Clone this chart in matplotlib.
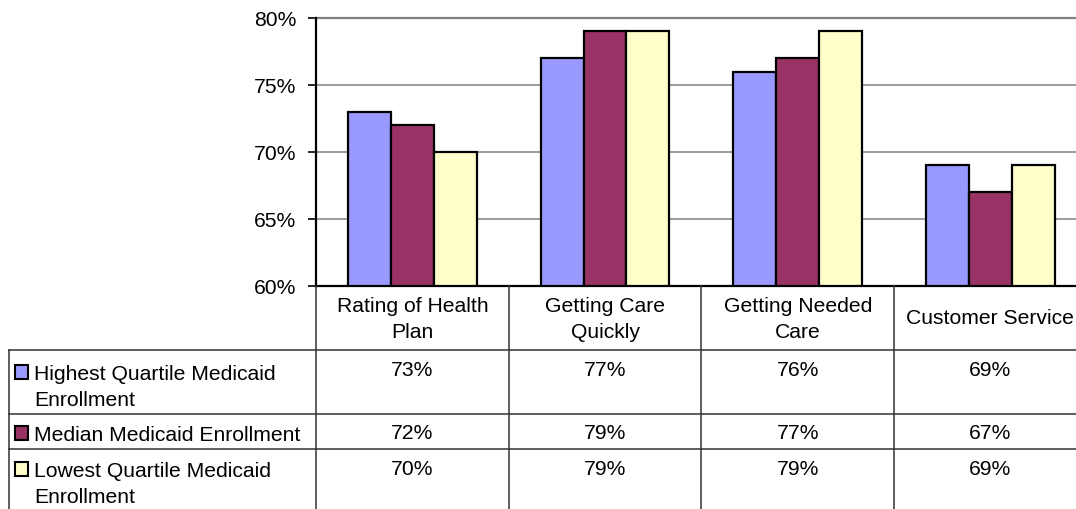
import matplotlib
matplotlib.use("Agg")
import matplotlib.pyplot as plt
from matplotlib.ticker import PercentFormatter
from matplotlib.transforms import blended_transform_factory
from matplotlib.lines import Line2D
from matplotlib.patches import Rectangle

# ---- data -------------------------------------------------------------
categories = ["Rating of Health\nPlan", "Getting Care\nQuickly",
              "Getting Needed\nCare", "Customer Service"]
series_names = ["Highest Quartile Medicaid\nEnrollment",
                "Median Medicaid Enrollment",
                "Lowest Quartile Medicaid\nEnrollment"]
highest = [73, 77, 76, 69]
median = [72, 79, 77, 67]
lowest = [70, 79, 79, 69]
y_ticks = [60, 65, 70, 75, 80]

series_values = [highest, median, lowest]
colors = ["#9999FF", "#993366", "#FFFFCC"]

plt.rcParams["font.family"] = ["Liberation Sans", "DejaVu Sans"]
FS = 15.2
LINE_PX = 26.5  # baseline-to-baseline distance of wrapped cell text

W, H = 1076, 510
fig = plt.figure(figsize=(W / 100, H / 100), dpi=100)
fig.patch.set_facecolor("white")


def fx(px):
    return px / W


def fy(py):
    return 1 - py / H


def cell_text(x, base_px, text, transform, ha):
    """Draw (possibly wrapped) text with the first baseline at base_px."""
    for j, line in enumerate(text.split("\n")):
        fig.text(x, fy(base_px + j * LINE_PX), line, transform=transform,
                 ha=ha, va="baseline", fontsize=FS)


# plot area (the rightmost column runs a little past the canvas edge)
left_px, right_px, top_px, bottom_px = 316, 1086.7, 19, 287
ax = fig.add_axes([fx(left_px), fy(bottom_px),
                   fx(right_px - left_px), (bottom_px - top_px) / H])

n = len(categories)
bar_w = 0.223
for k, (vals, col) in enumerate(zip(series_values, colors)):
    xs = [i + 0.5 + (k - 1) * bar_w for i in range(n)]
    ax.bar(xs, vals, width=bar_w, bottom=0, color=col, edgecolor="black",
           linewidth=1.6, zorder=3)

ax.set_xlim(0, n)
ax.set_ylim(60, 80)
ax.set_yticks(y_ticks)
ax.yaxis.set_major_formatter(PercentFormatter(100, decimals=0))
ax.tick_params(axis="y", length=6, width=1.2, pad=8, labelsize=FS,
               color="black")
ax.set_xticks([])
ax.grid(axis="y", color="#808080", linewidth=1.1, zorder=0)
ax.spines["right"].set_visible(False)
ax.spines["top"].set_color("#808080")
ax.spines["top"].set_linewidth(1.6)
ax.spines["left"].set_linewidth(1.6)
ax.spines["bottom"].set_linewidth(1.6)
ax.spines["left"].set_zorder(4)
ax.spines["bottom"].set_zorder(4)

# ---- data table below the plot ----------------------------------------
tr = blended_transform_factory(ax.transData, fig.transFigure)
line_kw = dict(color="#333333", linewidth=1.1, clip_on=False)

header_top = 287
row_bounds = [351, 415, 450, 530]
table_left = 9

# column separators
for i in range(n + 1):
    fig.add_artist(Line2D([i, i], [fy(header_top), fy(row_bounds[-1])],
                          transform=tr, **line_kw))
# horizontal row lines
for yb in row_bounds[:-1]:
    fig.add_artist(Line2D([fx(table_left), fx(right_px)], [fy(yb), fy(yb)],
                          transform=fig.transFigure, **line_kw))
# left border of the table
fig.add_artist(Line2D([fx(table_left), fx(table_left)],
                      [fy(row_bounds[0]), fy(row_bounds[-1])],
                      transform=fig.transFigure, **line_kw))

# category headers
for i, cat in enumerate(categories):
    base = 312 if "\n" in cat else 324.5
    cell_text(i + 0.5, base, cat, tr, "center")

# series rows: legend key, name, values
value_base = [376, 439, 475]
name_base = [379.5, 441, 477]
for k, (name, vals, col) in enumerate(zip(series_names, series_values,
                                          colors)):
    nb = name_base[k]
    key = Rectangle((fx(15), fy(nb)), fx(13), 14 / H,
                    transform=fig.transFigure, facecolor=col,
                    edgecolor="black", linewidth=1.5)
    fig.add_artist(key)
    cell_text(fx(34), nb, name, fig.transFigure, "left")
    for i, v in enumerate(vals):
        cell_text(i + 0.5, value_base[k], f"{v}%", tr, "center")

fig.savefig("out.png", dpi=100)
